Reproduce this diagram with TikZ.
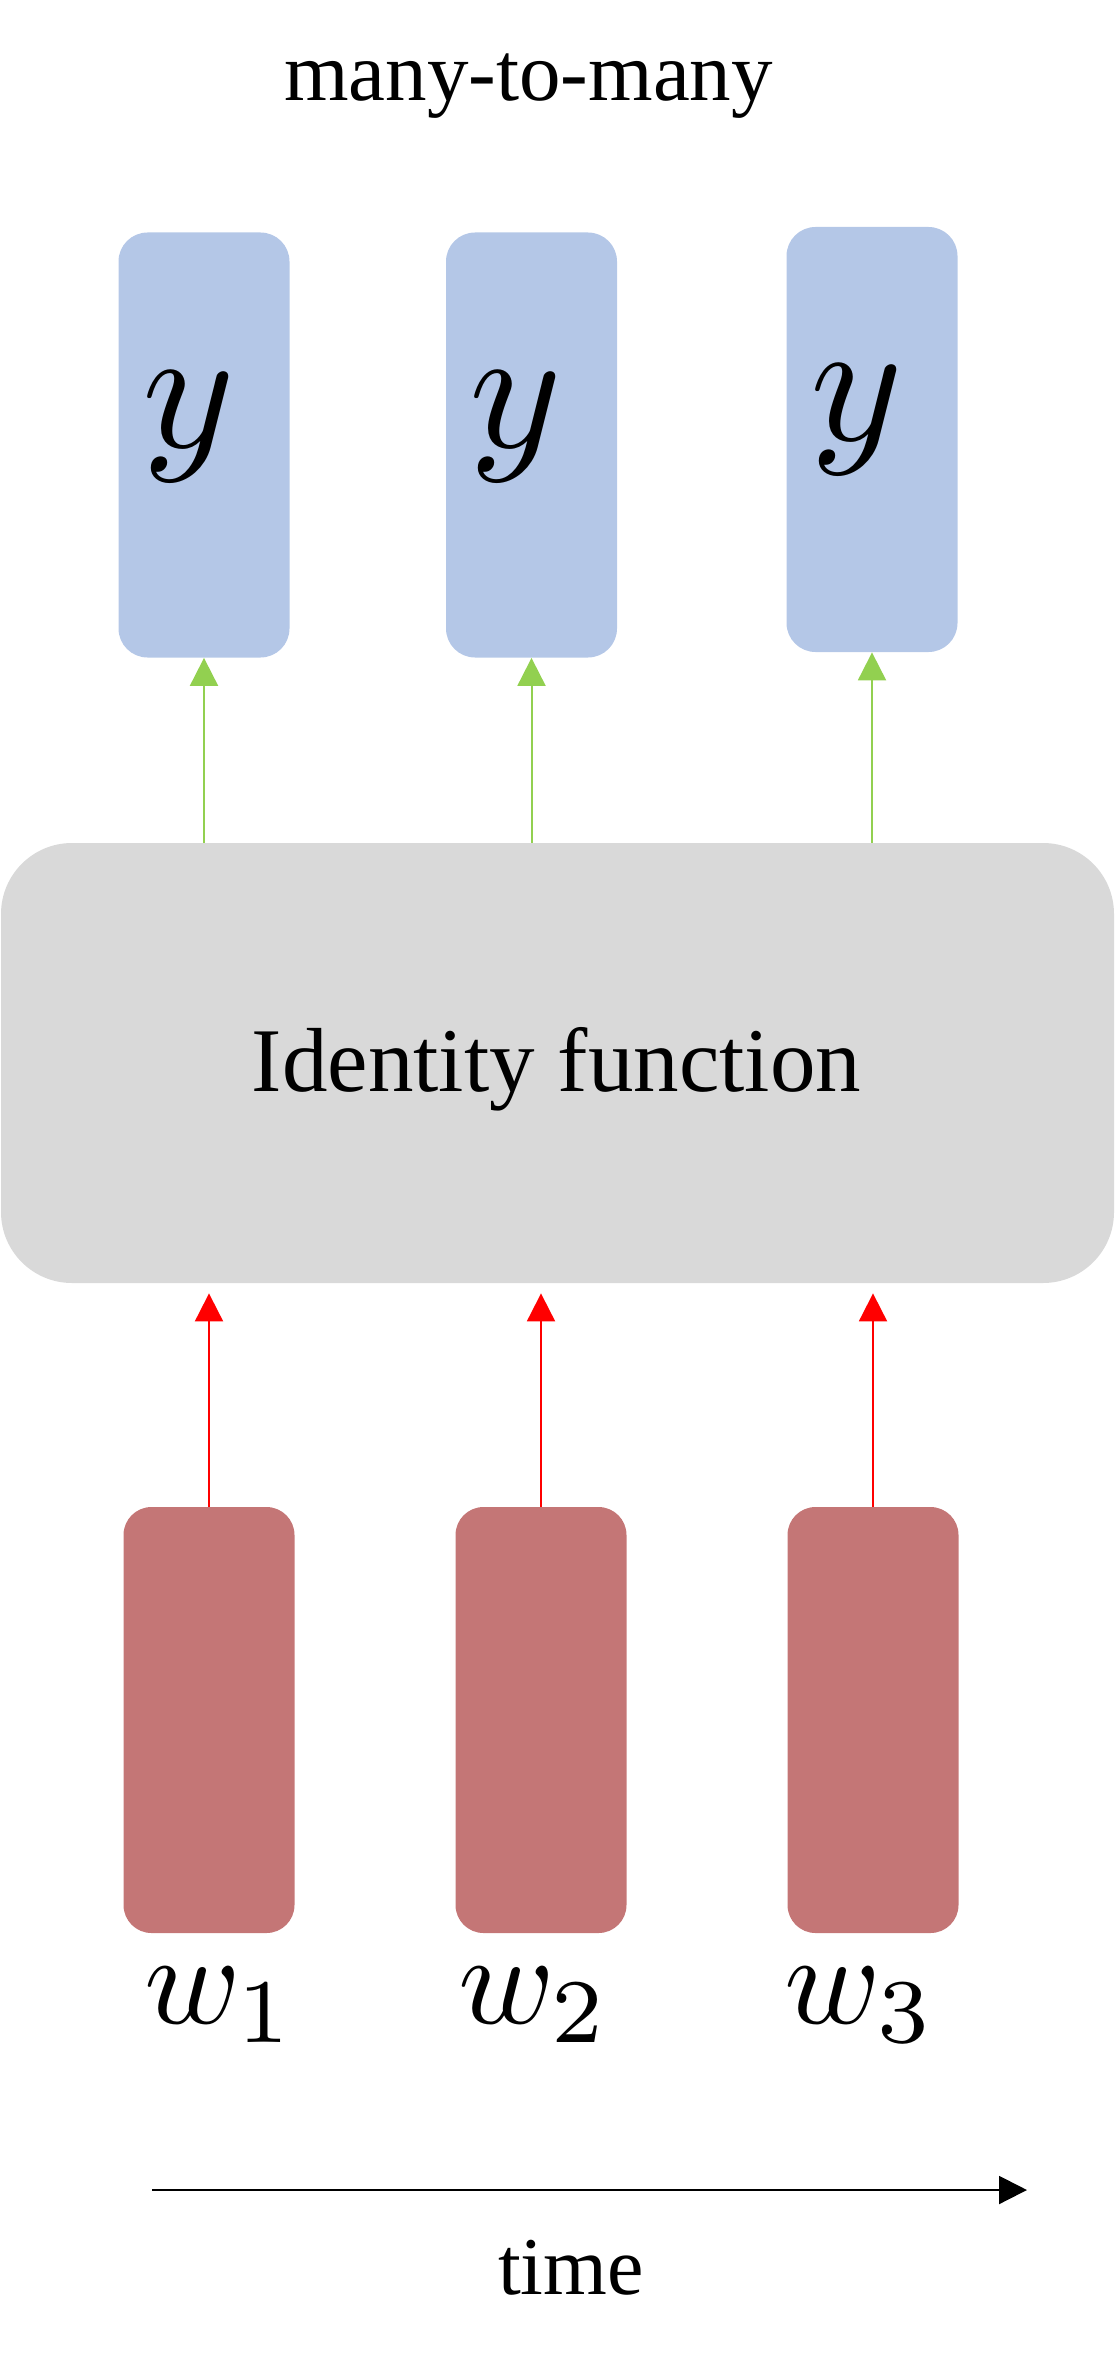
\documentclass[tikz,border=0pt]{standalone}
\usepackage{fix-cm}
\usepackage[no-math]{fontspec}
\setmainfont{Liberation Serif}
\usetikzlibrary{arrows.meta}
\definecolor{outblue}{RGB}{180,199,231}
\definecolor{inred}{RGB}{196,118,118}
\definecolor{idgray}{RGB}{217,217,217}
\definecolor{arrgreen}{RGB}{146,208,80}
\tikzset{
  ybox/.style={fill=outblue, rounded corners=14.5pt, minimum width=85.5pt, minimum height=212.5pt, inner sep=0pt},
  wbox/.style={fill=inred, rounded corners=14pt, minimum width=85.5pt, minimum height=213pt, inner sep=0pt},
  idbox/.style={fill=idgray, rounded corners=35.5pt, minimum width=556.5pt, minimum height=220pt, inner sep=0pt},
  uparrow/.style={-{Triangle[length=14pt,width=14pt]}, line width=1pt},
  mathlab/.style={anchor=base, inner sep=0pt, font=\fontsize{10}{12}\selectfont, scale=#1},
}
\begin{document}
\begin{tikzpicture}[x=0.5pt, y=-0.5pt, line join=round]
\useasboundingbox (0,0) rectangle (1118,2369);
\node[anchor=base, font=\fontsize{41.5}{45}\selectfont] (title) at (528.5,101) {many-to-many};
% outputs
\foreach \i/\x/\y/\lx/\ly in {1/204/445/189/448, 2/531.5/445/516/448, 3/872/439.5/857/441}{
  \node[ybox] (ybox\i) at (\x,\y) {};
  \node[mathlab=8.8] (ylab\i) at (\lx,\ly) {$y$};
}
% identity
\node[idbox] (idfun) at (557.5,1063) {};
\node[anchor=base, font=\fontsize{45.5}{50}\selectfont] (idlab) at (556.5,1091) {Identity function};
% inputs
\foreach \i/\x/\lx in {1/209/220, 2/541/534, 3/873/860}{
  \node[wbox] (wbox\i) at (\x,1720) {};
  \node[mathlab=6.5] (wlab\i) at (\lx,2023) {$w_\i$};
  \draw[uparrow, red, shorten >=5pt] (wbox\i.north) -- (wbox\i.north |- idfun.south);
  \draw[uparrow, arrgreen] (idfun.north -| ybox\i) -- (ybox\i.south);
}
% time axis
\coordinate (t0) at (152,2190);
\coordinate (t1) at (1027,2190);
\draw[uparrow] (t0) -- (t1);
\node[anchor=base, font=\fontsize{41}{45}\selectfont] (timelab) at (571,2294) {time};
\end{tikzpicture}
\end{document}
